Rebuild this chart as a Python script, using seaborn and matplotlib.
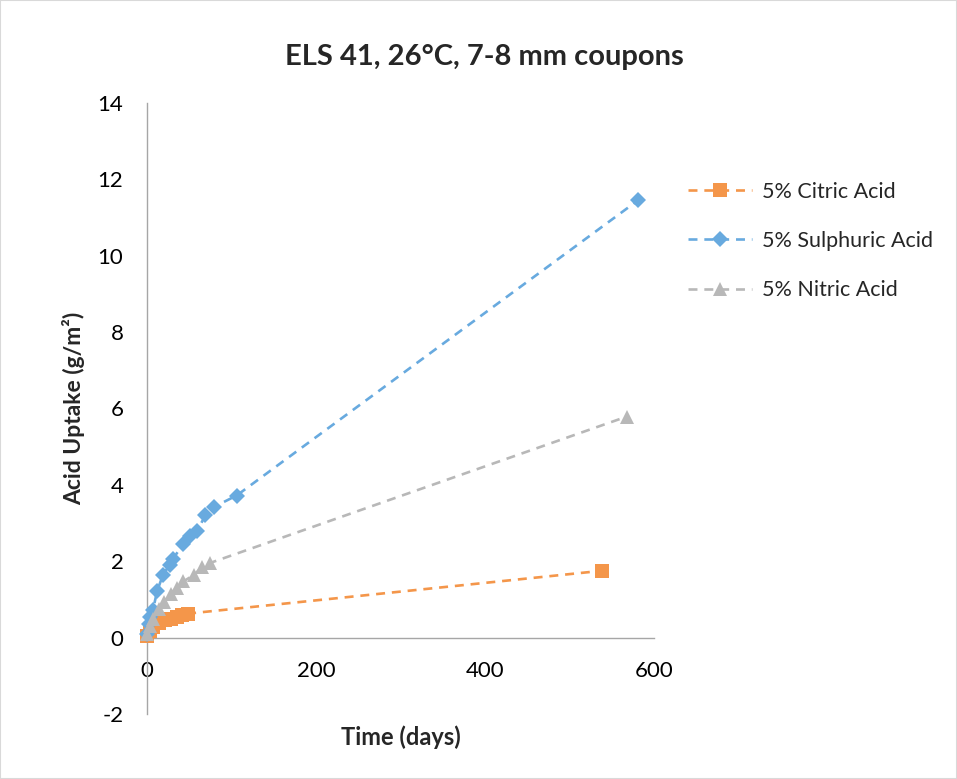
import matplotlib
matplotlib.use("Agg")
import matplotlib.pyplot as plt
import seaborn as sns
import pandas as pd
from matplotlib.patches import Rectangle

# ---- data ----
citric_days = [0, 4, 7, 14, 21, 28, 35, 42, 49, 538]
citric_vals = [0.05, 0.18, 0.28, 0.38, 0.45, 0.50, 0.55, 0.60, 0.63, 1.75]

sulph_days = [0, 2, 4, 7, 12, 19, 27, 31, 43, 51, 59, 69, 79, 106, 581]
sulph_vals = [0.10, 0.35, 0.55, 0.72, 1.22, 1.65, 1.91, 2.07, 2.46, 2.65, 2.78, 3.20, 3.42, 3.72, 11.45]

nitric_days = [0, 3, 7, 14, 20, 28, 35, 43, 56, 65, 74, 568]
nitric_vals = [0.10, 0.30, 0.50, 0.76, 0.94, 1.15, 1.31, 1.47, 1.65, 1.85, 1.95, 5.79]

series_names = ["5% Citric Acid", "5% Sulphuric Acid", "5% Nitric Acid"]
x_ticks = [0, 200, 400, 600]
y_ticks = [-2, 0, 2, 4, 6, 8, 10, 12, 14]

title = "ELS 41, 26°C, 7-8 mm coupons"
x_label = "Time (days)"
y_label = "Acid Uptake (g/m²)"

# ---- style ----
sns.set_theme(style="white")
plt.rcParams["font.family"] = ["Lato", "DejaVu Sans"]
plt.rcParams["axes.unicode_minus"] = False

W, H = 957, 779
fig = plt.figure(figsize=(W / 100, H / 100), dpi=100)
ax = fig.add_axes([147 / W, 1 - 714 / H, (654 - 147) / W, (714 - 103) / H])

colors = ["#F4964A", "#68AADF", "#B8B8B8"]
markers = ["s", "D", "^"]
msizes = [9.5, 8.5, 10.5]
data = [(citric_days, citric_vals), (sulph_days, sulph_vals), (nitric_days, nitric_vals)]

for (d, v), name, c, m, ms in zip(data, series_names, colors, markers, msizes):
    df = pd.DataFrame({"day": d, "val": v})
    sns.lineplot(data=df, x="day", y="val", ax=ax, color=c, marker=m,
                 markersize=ms, markeredgewidth=0, linestyle=(0, (3.4, 2.6)),
                 linewidth=1.9, label=name, sort=False, clip_on=False, zorder=3)

ax.set_xlim(0, 600)
ax.set_ylim(-2, 14)
ax.set_xticks(x_ticks)
ax.set_yticks(y_ticks)

for s in ["top", "right"]:
    ax.spines[s].set_visible(False)
ax.spines["bottom"].set_position(("data", 0))
for s in ["left", "bottom"]:
    ax.spines[s].set_color("#A6A6A6")
    ax.spines[s].set_linewidth(1.0)

ax.tick_params(axis="both", length=0, labelsize=16, colors="#000000")
ax.tick_params(axis="x", pad=17)
ax.tick_params(axis="y", pad=17)

ax.set_xlabel(x_label, fontsize=17, fontweight="bold")
ax.set_ylabel(y_label, fontsize=16.5, fontweight="bold")
ax.xaxis.set_label_coords(0.5, -0.018)
ax.yaxis.set_label_coords(-0.122, 0.5)

fig.text(484 / W, 1 - 57 / H, title, ha="center", va="center",
         fontsize=21, fontweight="bold")

handles, labels = ax.get_legend_handles_labels()
ax.get_legend().remove()
fig.legend(handles, labels, loc="upper left", bbox_to_anchor=(679 / W, 1 - 173 / H),
           frameon=False, fontsize=15.5, handlelength=3.0, handletextpad=0.45,
           labelspacing=1.36, borderaxespad=0)

fig.patches.append(Rectangle((0, 0), 1, 1, transform=fig.transFigure, fill=False,
                             edgecolor="#D9D9D9", linewidth=1.5))

fig.savefig("out.png", dpi=100)
